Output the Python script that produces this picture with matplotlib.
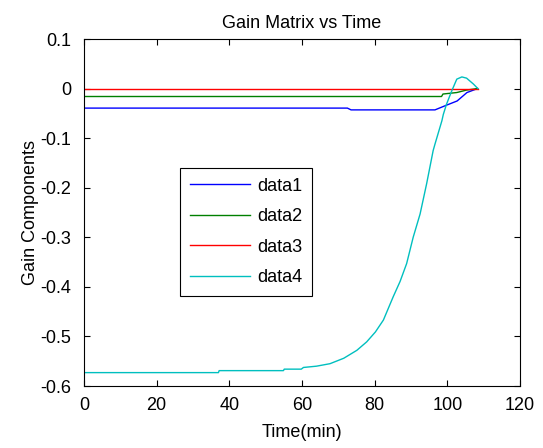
import matplotlib
matplotlib.use("Agg")
import matplotlib.pyplot as plt

plt.rcParams['font.family'] = ['Liberation Sans', 'DejaVu Sans']
plt.rcParams['axes.unicode_minus'] = False

# values (time in min, gain)
t1 = [0, 72.5, 73.5, 96.6, 99.6, 102.7, 105.4, 108.3]
g1 = [-0.0394, -0.0394, -0.043, -0.043, -0.034, -0.025, -0.008, 0.0]

t2 = [0, 98.4, 98.8, 102.6, 105.3, 108.3]
g2 = [-0.016, -0.016, -0.011, -0.008, -0.003, 0.0]

t3 = [0, 108.4]
g3 = [0.0, 0.0]

t4 = [0, 37, 37.2, 54.9, 55.1, 59.8, 60.4, 64.0, 67.7, 71.5, 75.1, 77.8, 80.2,
      82.4, 85.1, 87.0, 88.8, 90.6, 92.5, 94.3, 96.1, 96.6, 98.5, 98.9, 99.8,
      101.2, 102.6, 104.0, 105.3, 107.2, 108.4]
g4 = [-0.573, -0.573, -0.569, -0.569, -0.566, -0.566, -0.5626, -0.560, -0.555,
      -0.544, -0.528, -0.511, -0.491, -0.467, -0.420, -0.389, -0.353, -0.300,
      -0.253, -0.192, -0.125, -0.112, -0.065, -0.052, -0.031, -0.005, 0.019,
      0.0235, 0.021, 0.009, 0.0]

labels = ['data1', 'data2', 'data3', 'data4']
colors = ['#0000ff', '#008000', '#ff0000', '#00bfbf']

fig = plt.figure(figsize=(5.43, 4.48), dpi=100)
ax = fig.add_axes([84/543, 62/448, 436/543, 347/448])

for t, g, c, lab in zip([t1, t2, t3, t4], [g1, g2, g3, g4], colors, labels):
    ax.plot(t, g, color=c, linewidth=1.0, label=lab)

ax.set_xlim(0, 120)
ax.set_ylim(-0.6, 0.1)
ax.set_xticks([0, 20, 40, 60, 80, 100, 120])
ax.set_yticks([-0.6, -0.5, -0.4, -0.3, -0.2, -0.1, 0, 0.1])
ax.set_yticklabels(['-0.6', '-0.5', '-0.4', '-0.3', '-0.2', '-0.1', '0', '0.1'])
ax.tick_params(direction='in', top=True, right=True, length=4, width=0.8,
               labelsize=13)
ax.tick_params(axis='y', pad=9)
ax.tick_params(axis='x', pad=8)
for s in ax.spines.values():
    s.set_linewidth(0.8)

ax.set_title('Gain Matrix vs Time', fontsize=13, pad=8)
ax.set_xlabel('Time(min)', fontsize=13, labelpad=7)
ax.set_ylabel('Gain Components', fontsize=13, labelpad=1)

leg = ax.legend(loc='upper left', bbox_to_anchor=(0.221, 0.629),
                borderaxespad=0, fancybox=False, edgecolor='black',
                framealpha=1, fontsize=13, handlelength=3.3,
                handletextpad=0.4, labelspacing=0.75, borderpad=0.55)
leg.get_frame().set_linewidth(0.8)

fig.savefig('out.png', dpi=100)
